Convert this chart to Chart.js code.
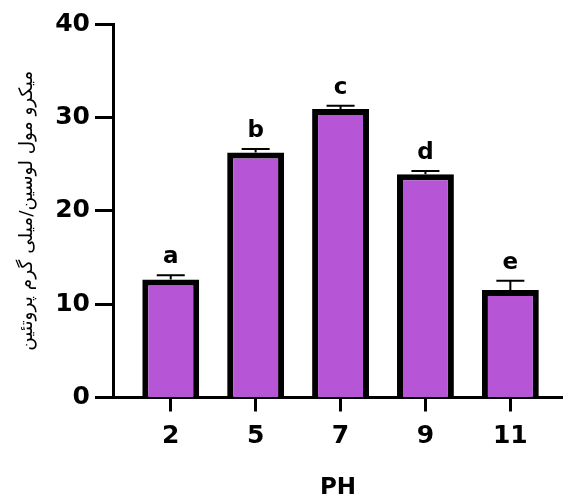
<!DOCTYPE html>
<html lang="fa">
  <head>
    <meta charset="UTF-8" />
    <title>PH</title>
    <script src="https://cdn.jsdelivr.net/npm/chart.js"></script>
    <style>
      html, body { margin: 0; padding: 0; background: #fff; }
      #wrap { width: 563px; height: 498px; }
    </style>
  </head>
  <body>
    <div id="wrap"><canvas id="phChart"></canvas></div>

    <script>
      // pH treatments, mean values, SEM and significance letters
      const phLabels = ["2", "5", "7", "9", "11"];
      const means = [12.65, 26.25, 30.9, 23.9, 11.5];
      const sem = [0.45, 0.35, 0.35, 0.35, 1.0];
      const groups = ["a", "b", "c", "d", "e"];
      const yTicks = [0, 10, 20, 30, 40];

      const tickFont = { family: "DejaVu Sans", weight: "bold", size: 25 };

      // error bars (upper half only) plus the group letter above each cap
      const errorBars = {
        id: "errorBars",
        afterDatasetsDraw(chart) {
          const { ctx, scales } = chart;
          const x = scales.x, y = scales.y;
          ctx.save();
          ctx.strokeStyle = "#000";
          ctx.lineWidth = 2;
          ctx.fillStyle = "#000";
          ctx.font = "bold 23px 'DejaVu Sans'";
          ctx.textAlign = "center";
          ctx.textBaseline = "alphabetic";
          means.forEach((m, i) => {
            const px = x.getPixelForValue(i);
            const top = y.getPixelForValue(m);
            const cap = y.getPixelForValue(m + sem[i]);
            ctx.beginPath();
            ctx.moveTo(px, top);
            ctx.lineTo(px, cap);
            ctx.moveTo(px - 14, cap);
            ctx.lineTo(px + 14, cap);
            ctx.stroke();
            ctx.fillText(groups[i], px, cap - 12);
          });
          ctx.restore();
        },
      };

      const ctx = document.getElementById("phChart").getContext("2d");
      new Chart(ctx, {
        type: "bar",
        data: {
          datasets: [
            {
              data: means.map((v, i) => ({ x: i, y: v })),
              backgroundColor: "#b655d6",
              borderColor: "#000",
              borderWidth: 6,
              categoryPercentage: 1,
              barPercentage: 0.67,
            },
          ],
        },
        options: {
          responsive: true,
          maintainAspectRatio: false,
          animation: false,
          layout: { padding: { top: 24, right: 0, bottom: 0, left: 0 } },
          plugins: { legend: { display: false }, tooltip: { enabled: false } },
          scales: {
            x: {
              type: "linear",
              offset: false,
              min: -0.68,
              max: 4.62,
              afterBuildTicks: (s) => {
                s.ticks = phLabels.map((_, i) => ({ value: i }));
              },
              afterFit: (s) => {
                s.height = 100.5;
              },
              border: { color: "#000", width: 3 },
              grid: {
                offset: false,
                drawOnChartArea: false,
                tickLength: 14,
                tickWidth: 3,
                tickColor: "#000",
              },
              ticks: {
                color: "#000",
                font: tickFont,
                padding: 10,
                maxRotation: 0,
                callback: (v) => phLabels[v],
              },
              title: {
                display: true,
                text: "PH",
                color: "#000",
                font: { family: "DejaVu Sans", weight: "bold", size: 23, lineHeight: 0.85 },
                padding: 0,
              },
            },
            y: {
              min: 0,
              max: 40,
              afterBuildTicks: (s) => {
                s.ticks = yTicks.map((v) => ({ value: v }));
              },
              afterFit: (s) => {
                s.width = 113;
              },
              border: { color: "#000", width: 3 },
              grid: {
                drawOnChartArea: false,
                tickLength: 18,
                tickWidth: 3,
                tickColor: "#000",
              },
              ticks: {
                color: "#000",
                font: tickFont,
                padding: 5,
              },
              title: {
                display: true,
                text: "میکرو مول لوسین/میلی گرم پروتئین",
                color: "#000",
                font: { family: "DejaVu Sans", size: 18.5 },
                padding: { top: 16 },
              },
            },
          },
        },
        plugins: [errorBars],
      });
    </script>
  </body>
</html>
